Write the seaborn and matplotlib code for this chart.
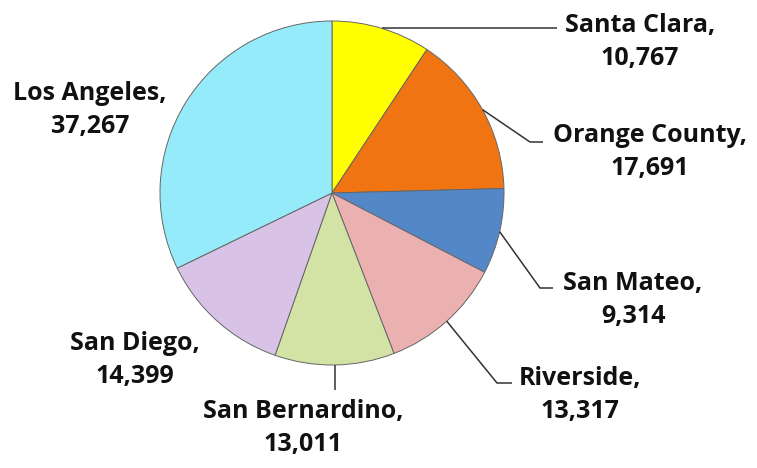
import numpy as np
import matplotlib
matplotlib.use("Agg")
import matplotlib.pyplot as plt
import seaborn as sns

# county counts, clockwise from 12 o'clock
counties = ["Santa Clara", "Orange County", "San Mateo", "Riverside",
            "San Bernardino", "San Diego", "Los Angeles"]
counts = [10767, 17691, 9314, 13317, 13011, 14399, 37267]
colors = ["#FFFF00", "#F07512", "#5487C8", "#EBB1B1",
          "#D3E3A5", "#D8C2E6", "#96EBFB"]

# label centres and leader elbows in pixel space (y down)
label_pos = [(640, 42), (650, 152), (633, 300), (580, 395),
             (303, 428), (135, 360), (90, 110)]
elbows = [(557, None), (530, 142), (540, 288), (497, 383),
          (None, 390), None, None]
line_ends = [(557, None), (543, 142), (553, 288), (512, 383),
             (None, 390), None, None]

W, H = 757, 468
cx, cy, R = 332, 193, 172

sns.set_theme(style="white")
plt.rcParams["font.family"] = ["Open Sans", "DejaVu Sans"]

fig = plt.figure(figsize=(W / 100, H / 100), dpi=100)
ax = fig.add_axes([0, 0, 1, 1])

wedges, _ = ax.pie(counts, colors=colors, startangle=90, counterclock=False,
                   center=(cx, H - cy), radius=R,
                   wedgeprops=dict(edgecolor="#666666", linewidth=0.7))
ax.set_xlim(0, W)
ax.set_ylim(0, H)
ax.set_aspect("equal")
ax.axis("off")

for i, w in enumerate(wedges):
    mid = np.deg2rad((w.theta1 + w.theta2) / 2)
    x0 = cx + R * np.cos(mid)
    y0 = (H - cy) + R * np.sin(mid)
    if elbows[i] is not None:
        ex, ey = elbows[i]
        lx, ly = line_ends[i]
        ex = x0 if ex is None else ex
        ey = y0 if ey is None else H - ey
        lx = x0 if lx is None else lx
        ly = y0 if ly is None else H - ly
        ax.plot([x0, ex, lx], [y0, ey, ly], color="#333333", lw=1.1,
                solid_capstyle="butt")
    tx, ty = label_pos[i]
    ax.text(tx, H - ty, f"{counties[i]},\n{counts[i]:,}", ha="center",
            va="center", fontsize=18, fontweight="bold", color="#111111",
            linespacing=1.4)

fig.savefig("out.png", dpi=100, facecolor="white")
